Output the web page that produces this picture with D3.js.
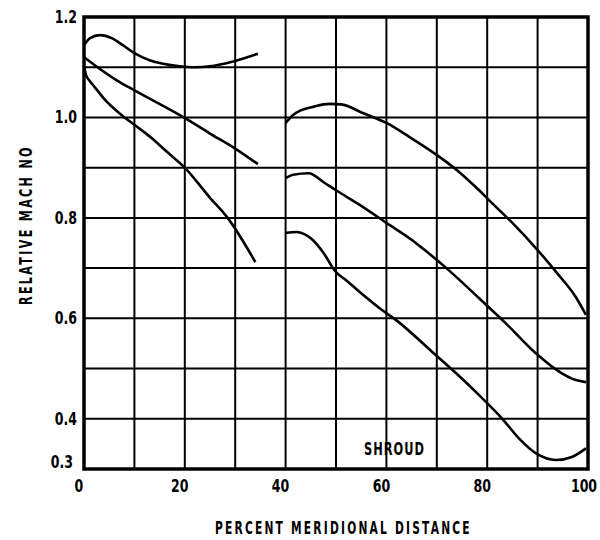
<!DOCTYPE html>
<html><head><meta charset="utf-8">
<script src="https://cdn.jsdelivr.net/npm/d3@7"></script>
<style>
body{margin:0;background:#fff;}
text{font-family:"DejaVu Sans",sans-serif;font-weight:bold;fill:#000;}
</style></head>
<body><svg id="c" width="600" height="540"></svg>
<script>
const xTicks = [0,20,40,60,80,100];
const yTicks = [0.3,0.4,0.6,0.8,1.0,1.2];
const xTitle = "PERCENT MERIDIONAL DISTANCE";
const yTitle = "RELATIVE MACH NO";
const note = "SHROUD";

const curveA = [[0,1.144],[1.2,1.158],[3.2,1.164],[5.5,1.158],[7.7,1.144],[10,1.128],[13,1.114],[15.7,1.107],[19,1.102],[22,1.1],[25,1.102],[29,1.11],[34.5,1.127]];
const curveB = [[0,1.12],[2,1.105],[6.5,1.074],[10,1.054],[13.3,1.036],[19.8,1.0],[25,0.968],[30,0.938],[34.5,0.907]];
const curveC = [[0,1.102],[0.4,1.085],[1.1,1.073],[2,1.062],[4,1.037],[7.3,1.006],[9.9,0.986],[13.3,0.96],[16.4,0.932],[19.8,0.902],[25,0.84],[28.5,0.8],[34,0.712]];
const curveD = [[40,0.989],[41.5,1.005],[43,1.014],[45.4,1.021],[48.7,1.027],[51,1.026],[55.3,1.009],[60,0.989],[64.6,0.961],[69.9,0.926],[74,0.895],[78.4,0.855],[80.4,0.835],[85,0.79],[90,0.736],[93.7,0.692],[97.6,0.642],[99.6,0.607]];
const curveE = [[40,0.879],[41.5,0.886],[44.6,0.889],[47.4,0.872],[50,0.855],[54.7,0.826],[60,0.79],[65.2,0.755],[67.1,0.74],[71.9,0.7],[78.4,0.64],[83.7,0.59],[89.7,0.53],[94.9,0.49],[97.6,0.477],[99.6,0.473]];
const curveF = [[40,0.77],[42.2,0.772],[44,0.766],[45.4,0.756],[47.4,0.732],[50,0.692],[52,0.676],[55,0.65],[59.2,0.616],[62,0.596],[69.1,0.533],[73.9,0.49],[78.8,0.443],[83,0.4],[86.3,0.361],[89.7,0.331],[93.7,0.318],[96.8,0.324],[99.6,0.341]];
const curves = [curveA,curveB,curveC,curveD,curveE,curveF];

const svg = d3.select("#c");
const x = d3.scaleLinear().domain([0,100]).range([84,588]);
const y = d3.scaleLinear().domain([0.3,1.2]).range([469,17]);

const grid = svg.append("g");
grid.selectAll("line.v").data(d3.range(10,100,10)).join("line")
  .attr("x1",d=>x(d)).attr("x2",d=>x(d)).attr("y1",y(1.2)).attr("y2",y(0.3))
  .attr("stroke","#000").attr("stroke-width",2);
grid.selectAll("line.h").data(d3.range(4,12).map(d=>d/10)).join("line")
  .attr("y1",d=>y(d)).attr("y2",d=>y(d)).attr("x1",x(0)).attr("x2",x(100))
  .attr("stroke","#000").attr("stroke-width",2);
svg.append("rect").attr("x",x(0)).attr("y",y(1.2)).attr("width",x(100)-x(0)).attr("height",y(0.3)-y(1.2))
  .attr("fill","none").attr("stroke","#000").attr("stroke-width",3.5);

const line = d3.line().x(d=>x(d[0])).y(d=>y(d[1])).curve(d3.curveMonotoneX);
svg.selectAll("path.c").data(curves).join("path").attr("class","c")
  .attr("d",line).attr("fill","none").attr("stroke","#000").attr("stroke-width",2.6);

const SX = 0.74;
svg.selectAll("text.yt").data(yTicks).join("text")
  .attr("transform",d=>`translate(${d===0.3?73:77},${y(d)+(d===0.3?-1:6)}) scale(${SX},1)`)
  .attr("text-anchor","end").attr("font-size",17).text(d=>d.toFixed(1));
svg.selectAll("text.xt").data(xTicks).join("text")
  .attr("transform",d=>`translate(${x(d)-(d===100?4:5)},492) scale(${SX},1)`)
  .attr("text-anchor","middle").attr("font-size",17).text(d=>d);

function fitText(x0,y0,rot,txt,size,ls,width){
  const t = svg.append("text").attr("font-size",size).attr("letter-spacing",ls).text(txt);
  const w = t.node().getComputedTextLength();
  t.attr("transform",`translate(${x0},${y0}) rotate(${rot}) scale(${width/w},1)`);
  return t;
}
fitText(215,534,0,xTitle,17,3.5,257);
fitText(32,305,-90,yTitle,17,3.5,160);
fitText(364,455,0,note,17,1.5,61);
</script></body></html>
